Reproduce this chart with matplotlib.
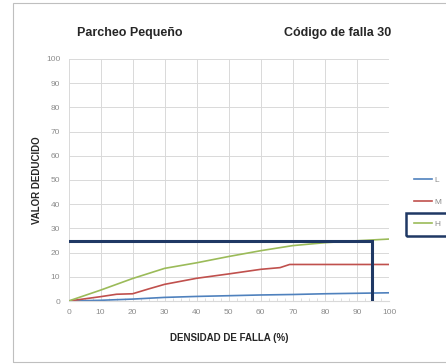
import matplotlib
matplotlib.use("Agg")
import matplotlib.pyplot as plt
from matplotlib.patches import Rectangle
from matplotlib.ticker import MultipleLocator

# curves for small patch deduct values, by severity
dens_l = [0, 10, 20, 30, 40, 50, 60, 70, 80, 90, 100]
val_l = [0, 0.3, 0.8, 1.5, 1.9, 2.2, 2.5, 2.7, 3.0, 3.2, 3.4]
dens_m = [0, 10, 15, 20, 25, 30, 40, 50, 60, 66, 69, 80, 90, 100]
val_m = [0, 1.8, 2.8, 3.0, 5.0, 6.9, 9.4, 11.2, 13.1, 13.8, 15.1, 15.1, 15.1, 15.1]
dens_h = [0, 10, 20, 30, 40, 50, 60, 70, 80, 90, 100]
val_h = [0, 4.5, 9.3, 13.5, 15.8, 18.4, 20.8, 22.9, 24.1, 24.9, 25.6]

# reading taken from the chart
read_dens = 94.6
read_val = 25

ticks = list(range(0, 101, 10))

BLUE, RED, GREEN = "#4F81BD", "#C0504D", "#9BBB59"
NAVY = "#1F3864"
GRID = "#D9D9D9"
TXT = "#262626"
TICK = "#8C8C8C"
FONT = ["Liberation Sans", "DejaVu Sans"]

fig = plt.figure(figsize=(4.46, 3.64), dpi=100)
fig.patches.append(Rectangle((13 / 446, 2 / 364), 1.2, 359 / 364, transform=fig.transFigure,
                             fill=False, edgecolor="#BFBFBF", lw=0.8))

ax = fig.add_axes([0.1536, 0.173, 0.7186, 0.665])
l1, = ax.plot(dens_l, val_l, color=BLUE, lw=1.2, label="L")
l2, = ax.plot(dens_m, val_m, color=RED, lw=1.2, label="M")
l3, = ax.plot(dens_h, val_h, color=GREEN, lw=1.2, label="H")

ax.plot([0, read_dens, read_dens], [read_val, read_val, 0], color=NAVY, lw=2.2,
        solid_joinstyle="miter", zorder=4)

ax.set_xlim(0, 100)
ax.set_ylim(0, 100)
ax.set_xticks(ticks)
ax.set_yticks(ticks)
ax.xaxis.set_minor_locator(MultipleLocator(2.5))
ax.grid(True, color=GRID, lw=0.7)
ax.set_axisbelow(True)
for s in ["top", "right", "left"]:
    ax.spines[s].set_visible(False)
ax.spines["bottom"].set_color(GRID)
ax.tick_params(axis="both", length=0, colors=TICK, labelsize=6, pad=6)
ax.tick_params(axis="x", which="minor", length=2, direction="in", color=GRID)
for lab in ax.get_xticklabels() + ax.get_yticklabels():
    lab.set_family(FONT)

ax.set_xlabel("DENSIDAD DE FALLA (%)", fontsize=7, fontweight="bold", color=TXT,
              family=FONT, labelpad=12)
ax.set_ylabel("VALOR DEDUCIDO", fontsize=7, fontweight="bold", color=TXT,
              family=FONT, labelpad=3)

fig.text(130 / 446, 1 - 33 / 364, "Parcheo Pequeño", ha="center", va="center",
         fontsize=9, fontweight="bold", color=TXT, family=FONT)
fig.text(338 / 446, 1 - 33 / 364, "Código de falla 30", ha="center", va="center",
         fontsize=9, fontweight="bold", color=TXT, family=FONT)

leg = fig.legend(handles=[l1, l2, l3], loc="upper left", bbox_to_anchor=(411 / 446, 1 - 174 / 364),
                 frameon=False, handlelength=2.2, handletextpad=0.3,
                 labelspacing=1.65, borderaxespad=0, borderpad=0.3,
                 prop={"family": FONT, "size": 6})
for t in leg.get_texts():
    t.set_color(TICK)

fig.patches.append(Rectangle((406 / 446, 1 - 236 / 364), 0.2, 23 / 364, transform=fig.transFigure,
                             fill=False, edgecolor=NAVY, lw=1.8))

fig.savefig("out.png", dpi=100, facecolor="white")
